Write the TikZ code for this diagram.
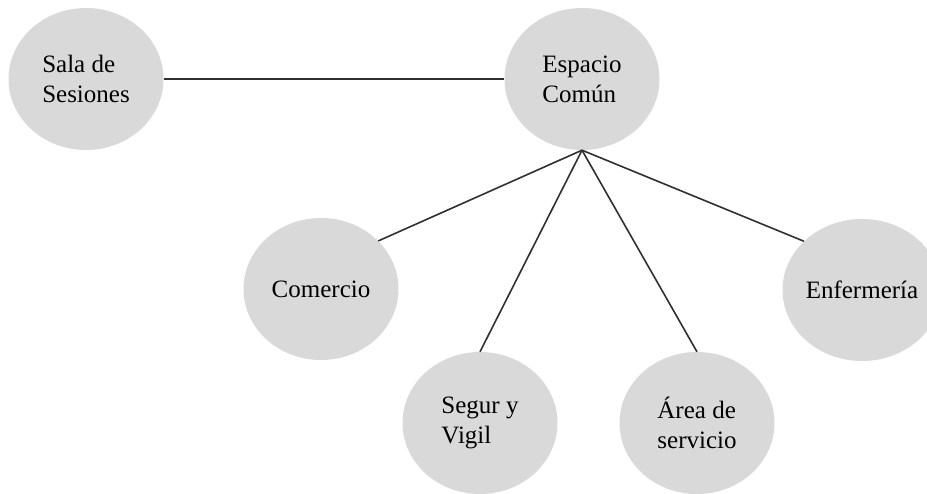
\documentclass[tikz,border=0pt]{standalone}
\usepackage{fontspec}
\setmainfont{Liberation Serif}
\usetikzlibrary{shapes.geometric}
\definecolor{bubble}{HTML}{D9D9D9}
\definecolor{wire}{HTML}{303030}
\tikzset{
  room/.style={ellipse, draw=none, fill=bubble, minimum width=155pt, minimum height=142pt, inner sep=0pt, font=\fontsize{25}{30}\selectfont, align=left},
  link/.style={draw=wire, line width=1.6pt},
}
\begin{document}
\begin{tikzpicture}[x=1pt,y=-1pt]
  \useasboundingbox (0,0) rectangle (927,493);
  % rooms
  \node[room](sala) at (86,79){Sala de\\Sesiones};
  \node[room](esp) at (582,79){Espacio\\Común};
  \node[room](com) at (321,289){Comercio};
  \node[room](seg) at (480,423){Segur y\\Vigil};
  \node[room](area) at (697,423){Área de\\servicio};
  \node[room](enf) at (862,290){Enfermería};
  % links
  \draw[link](sala.east)--(esp.west);
  \draw[link](esp.south)--(com.40);
  \draw[link](esp.south)--(seg.north);
  \draw[link](esp.south)--(area.north);
  \draw[link](esp.south)--(enf.140);
\end{tikzpicture}
\end{document}
